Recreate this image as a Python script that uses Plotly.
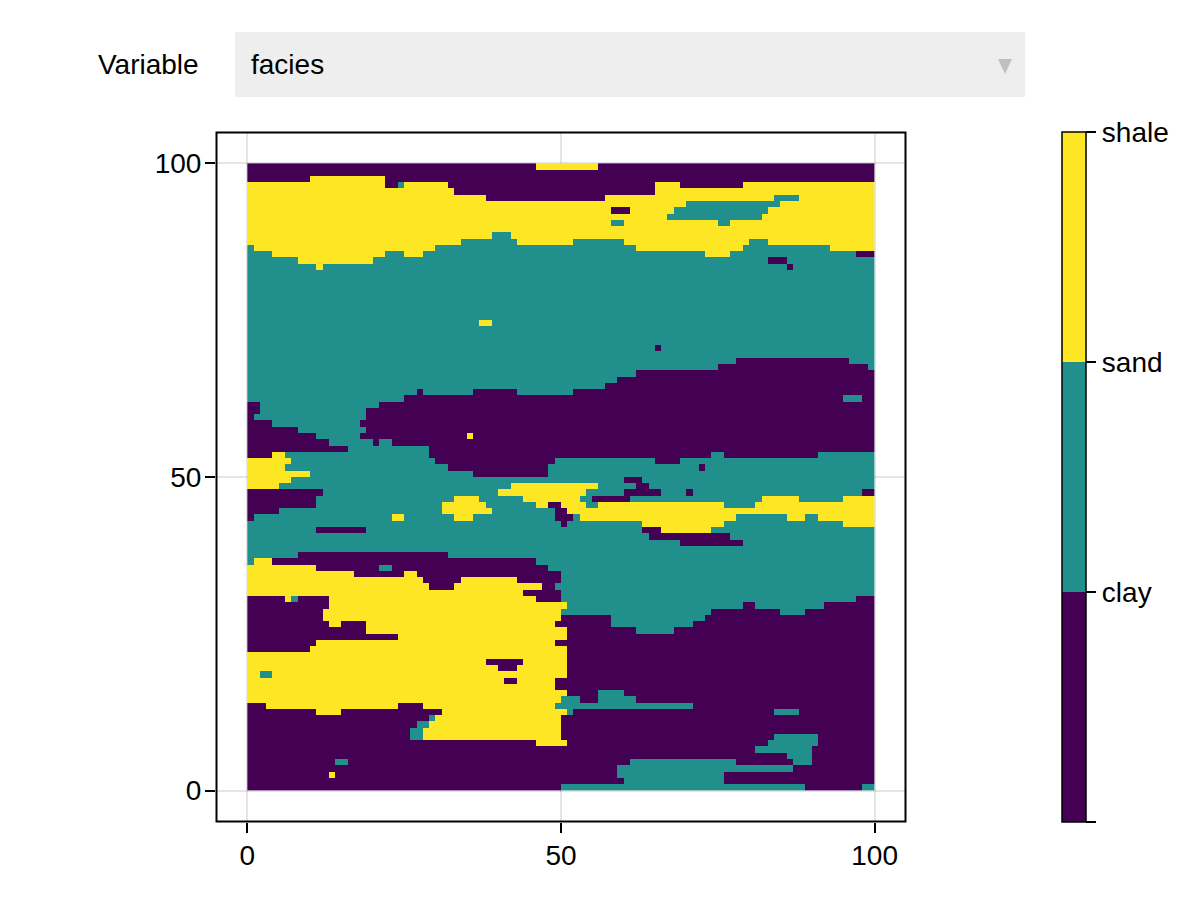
import plotly.graph_objects as go

# facies per row, top row (y=99) first
# each token = facies letter + column where that run ends: c=clay, n=sand, s=shale
facies_rows = [
    "c46 s56 c100",
    "c100",
    "c10 s22 c100",
    "s22 c24 n25 s32 c65 s69 c79 s100",
    "s33 c65 s100",
    "s38 c57 s84 n88 s100",
    "s70 n85 s100",
    "s58 c61 s68 n83 s100",
    "s67 n82 s100",
    "s58 n60 s75 n77 s100",
    "s100",
    "s39 n42 s100",
    "s34 n43 s52 n60 s80 n83 s100",
    "n1 s30 n62 s79 n93 s100",
    "n4 s22 n25 s28 n73 s77 n97 c100",
    "n8 s20 n83 c86 n100",
    "n11 s12 n86 c87 n100",
    "n100",
    "n100",
    "n100",
    "n100",
    "n100",
    "n100",
    "n100",
    "n100",
    "n37 s39 n100",
    "n100",
    "n100",
    "n100",
    "n65 c66 n100",
    "n100",
    "n78 c96 n100",
    "n75 c99 n100",
    "n62 c100",
    "n59 c100",
    "n57 c100",
    "n27 c28 n36 c43 n52 c100",
    "n25 c95 n98 c100",
    "c2 n21 c100",
    "c2 n19 c100",
    "c1 n19 c100",
    "c4 n18 c100",
    "c8 n19 c100",
    "c11 n18 c35 s36 c100",
    "c13 n20 c21 n23 c100",
    "c16 n29 c100",
    "c4 s6 n29 c74 n76 c91 n100",
    "s7 n30 c49 n65 c69 n100",
    "s6 n32 c48 n72 c73 n100",
    "s10 n36 c48 n100",
    "s7 n60 c63 n100",
    "s5 n42 s56 n62 c64 n100",
    "c12 n40 s54 n60 c66 n70 c71 n98 c100",
    "c11 n33 s37 n44 s53 n55 c61 n82 s88 n95 s100",
    "c11 n31 s38 n46 s48 c50 s54 n56 s76 n81 s100",
    "c5 n31 s39 n49 c51 s100",
    "c1 n23 s25 n33 s36 n49 c52 n53 s78 n86 s89 n91 s100",
    "n50 c51 n63 s76 n95 s100",
    "n11 c19 n63 c66 s74 n100",
    "n64 c77 n100",
    "n69 c79 n100",
    "n100",
    "n8 c32 n100",
    "n1 s4 c46 n100",
    "s11 c21 n23 c48 n100",
    "s17 c25 s27 c50 n100",
    "s28 c34 s43 c50 n100",
    "s29 c33 s47 c49 n100",
    "s44 c50 n100",
    "c6 s7 n8 c13 s46 c50 n97 c100",
    "c13 s51 n79 c81 n92 c100",
    "c12 s50 n74 c85 n89 c100",
    "c12 s50 c58 n73 c100",
    "c13 s15 c19 s49 c58 n71 c100",
    "c19 s51 c62 n68 c100",
    "c24 s51 c100",
    "c11 s49 c100",
    "c10 s51 c100",
    "s51 c100",
    "s38 c44 s51 c100",
    "s40 c43 s51 c100",
    "s2 n4 s51 c100",
    "s41 c43 s49 c100",
    "s49 c100",
    "s51 c56 n60 c100",
    "s50 n53 c56 n62 c100",
    "c3 s24 c28 s49 n71 c100",
    "c11 s15 c31 s51 n52 c84 n88 c100",
    "c29 n30 s50 c100",
    "c27 n29 s50 c100",
    "c26 n28 s50 c100",
    "c26 n28 s50 c84 n91 c100",
    "c46 s51 c83 n91 c100",
    "c81 n90 c100",
    "c86 n90 c100",
    "c14 n16 c61 n78 c87 n90 c100",
    "c59 n87 c100",
    "c13 s14 c59 n76 c100",
    "c60 n76 c100",
    "c50 n89 c98 n100",
]

facies_names = ["clay", "sand", "shale"]
facies_code = {"c": 0.5, "n": 1.5, "s": 2.5}
colorbar_ticks = [0, 1, 2, 3]
colorbar_labels = [""] + facies_names
axis_ticks = [0, 50, 100]
variable_label = "Variable"
variable_value = "facies"

W, H = 1200, 900
FONT = "Liberation Sans"
FONT_SIZE = 28
COLORS = ["#440154", "#21908C", "#FDE725"]


def expand_row(row):
    out = []
    for token in row.split():
        out += [facies_code[token[0]]] * (int(token[1:]) - len(out))
    return out


# heatmap wants the bottom row first
z = [expand_row(r) for r in reversed(facies_rows)]
centers = [i + 0.5 for i in range(100)]

colorscale = []
for i, c in enumerate(COLORS):
    colorscale += [[i / 3, c], [(i + 1) / 3, c]]

fig = go.Figure(go.Heatmap(
    x=centers,
    y=centers,
    z=z,
    zmin=0,
    zmax=3,
    colorscale=colorscale,
    colorbar=dict(
        xref="container",
        yref="container",
        x=1062 / W,
        xanchor="left",
        y=78 / H,
        yanchor="bottom",
        len=690 / H,
        lenmode="fraction",
        thickness=24,
        thicknessmode="pixels",
        xpad=0,
        ypad=0,
        outlinecolor="black",
        outlinewidth=1.5,
        tickmode="array",
        tickvals=colorbar_ticks,
        ticktext=colorbar_labels,
        ticks="outside",
        ticklen=10,
        tickwidth=1.5,
        tickcolor="black",
        tickfont=dict(family=FONT, size=FONT_SIZE, color="black"),
    ),
))

axis_style = dict(
    range=[-5, 105],
    tickmode="array",
    tickvals=axis_ticks,
    ticks="outside",
    ticklen=10,
    tickwidth=1.5,
    tickcolor="black",
    ticklabelstandoff=-2,
    showline=False,
    showgrid=True,
    gridcolor="rgba(0,0,0,0.1)",
    gridwidth=1.5,
    zeroline=False,
    tickfont=dict(family=FONT, size=FONT_SIZE, color="black"),
)
fig.update_xaxes(domain=[216 / W, 906 / W], **axis_style)
fig.update_yaxes(domain=[78 / H, 768 / H], **axis_style)

# frame round the plot, plotly's own axis line sits a pixel too far out
fig.add_shape(type="rect", xref="paper", yref="paper", layer="above",
              x0=216.5 / W, x1=905.5 / W, y0=1 - 821.5 / H, y1=1 - 132.5 / H,
              line=dict(color="black", width=2))

# the menu strip above the plot
fig.add_shape(type="rect", xref="paper", yref="paper", layer="below", line_width=0,
              x0=235 / W, x1=1025 / W, y0=1 - 97 / H, y1=1 - 32 / H, fillcolor="#eeeeee")
fig.add_shape(type="path", xref="paper", yref="paper", line_width=0, fillcolor="#c0c0c0",
              path=f"M {998 / W} {1 - 59 / H} L {1012 / W} {1 - 59 / H} L {1005 / W} {1 - 74 / H} Z")
fig.add_annotation(text=variable_label, xref="paper", yref="paper", showarrow=False,
                   x=201 / W, y=1 - 65 / H, xanchor="right", yanchor="middle",
                   font=dict(family=FONT, size=FONT_SIZE, color="black"))
fig.add_annotation(text=variable_value, xref="paper", yref="paper", showarrow=False,
                   x=249 / W, y=1 - 65 / H, xanchor="left", yanchor="middle",
                   font=dict(family=FONT, size=FONT_SIZE, color="black"))

fig.update_layout(
    width=W,
    height=H,
    margin=dict(l=0, r=0, t=0, b=0, pad=0, autoexpand=False),
    paper_bgcolor="white",
    plot_bgcolor="white",
)

fig.write_html(
    "out.html",
    config={"displayModeBar": False},
    post_script="document.body.style.margin='0';document.body.style.overflow='hidden';",
)
